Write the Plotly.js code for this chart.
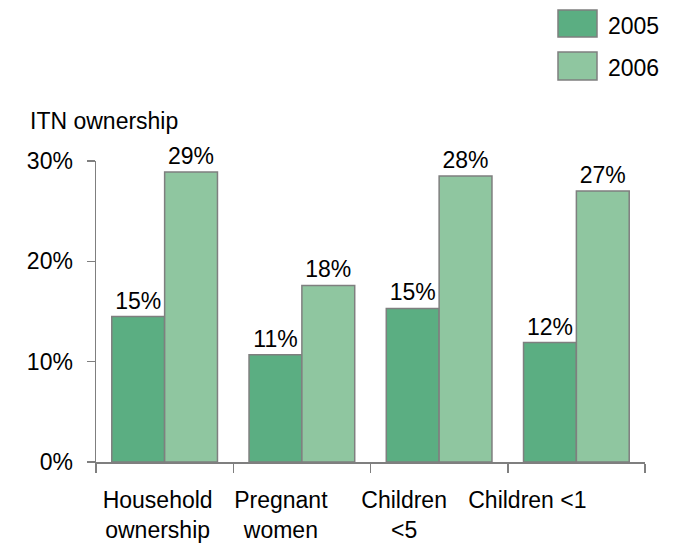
<!DOCTYPE html>
<html>
<head>
<meta charset="utf-8">
<script src="https://cdn.plot.ly/plotly-3.0.1.min.js"></script>
<style>
  html, body { margin: 0; padding: 0; background: #ffffff; }
  #chart { width: 684px; height: 546px; }
</style>
</head>
<body>
<div id="chart"></div>
<script>
// ---- data ----
const categories = ["Household ownership", "Pregnant women", "Children <5", "Children <1"];
const categoryLabels = ["Household<br>ownership", "Pregnant<br>women", "Children<br>&lt;5", "Children &lt;1"];
const seriesNames = ["2005", "2006"];
const values2005 = [14.5, 10.7, 15.3, 11.9];
const values2006 = [28.9, 17.6, 28.5, 27.0];
const labels2005 = ["15%", "11%", "15%", "12%"];
const labels2006 = ["29%", "18%", "28%", "27%"];
const yTickVals = [0, 10, 20, 30];
const yTickText = ["0%", "10%", "20%", "30%"];
const axisTitle = "ITN ownership";

// ---- style ----
const colors = ["#5bae82", "#8fc6a0"];
const outline = "#7f7f7f";
const FONT = "Liberation Sans, Arial, sans-serif";
const FS = 23;

const W = 684, H = 546;
const M = { l: 96, r: 39, t: 161, b: 84 };
const pw = W - M.l - M.r, ph = H - M.t - M.b;
const px2x = (px) => (px - M.l) / pw;
const py2y = (py) => (H - M.b - py) / ph;

const seriesVals = [values2005, values2006];
const seriesLabels = [labels2005, labels2006];

const traces = seriesNames.map((name, i) => ({
  type: "bar",
  name: name,
  x: categories,
  y: seriesVals[i],
  text: seriesLabels[i],
  textposition: "outside",
  textfont: { family: FONT, size: FS, color: "#000" },
  cliponaxis: false,
  marker: { color: colors[i], line: { color: outline, width: 1.5 } },
  hoverinfo: "skip",
  showlegend: false
}));

// invisible trace carrying the category label axis (labels sit on a slightly compressed spacing in the source)
traces.push({
  type: "scatter", mode: "none",
  x: categories.map((_, i) => i), y: categories.map(() => null),
  xaxis: "x2", yaxis: "y", hoverinfo: "skip", showlegend: false
});

// custom legend (large swatches)
const shapes = [];
const annotations = [];
const legendRows = [{ top: 10, bottom: 37 }, { top: 52, bottom: 80 }];
seriesNames.forEach((name, i) => {
  const r = legendRows[i];
  shapes.push({
    type: "rect", xref: "paper", yref: "paper",
    x0: px2x(558), x1: px2x(597), y0: py2y(r.bottom), y1: py2y(r.top),
    fillcolor: colors[i], line: { color: outline, width: 1.5 }
  });
  annotations.push({
    xref: "paper", yref: "paper", x: px2x(606), y: py2y((r.top + r.bottom) / 2 + 2),
    xanchor: "left", yanchor: "middle", showarrow: false,
    text: name, font: { family: FONT, size: FS, color: "#000" }
  });
});
annotations.push({
  xref: "paper", yref: "paper", x: px2x(28), y: py2y(121),
  xanchor: "left", yanchor: "middle", showarrow: false,
  text: axisTitle, font: { family: FONT, size: FS, color: "#000" }
});

const layout = {
  width: W, height: H,
  margin: M,
  paper_bgcolor: "#fff", plot_bgcolor: "rgba(0,0,0,0)",
  font: { family: FONT, size: FS, color: "#000" },
  barmode: "group",
  bargap: 0.23,
  bargroupgap: 0,
  showlegend: false,
  xaxis: {
    type: "category",
    showgrid: false, zeroline: false,
    showline: true, linecolor: outline, linewidth: 1.5,
    ticks: "outside", tickson: "boundaries", ticklen: 9, tickcolor: outline, tickwidth: 1.5,
    showticklabels: false
  },
  xaxis2: {
    domain: [px2x(94), px2x(589)],
    anchor: "y",
    range: [-0.5, categories.length - 0.5],
    tickmode: "array",
    tickvals: categories.map((_, i) => i),
    ticktext: categoryLabels,
    showgrid: false, zeroline: false, showline: false,
    ticks: "", ticklabelstandoff: 22,
    tickfont: { family: FONT, size: FS, color: "#000" },
    fixedrange: true
  },
  yaxis: {
    range: [0, 30],
    tickvals: yTickVals, ticktext: yTickText,
    showgrid: false, zeroline: false,
    showline: true, linecolor: outline, linewidth: 1.5,
    ticks: "outside", ticklen: 8, tickcolor: outline, tickwidth: 1.5,
    ticklabelstandoff: 9,
    tickfont: { family: FONT, size: FS, color: "#000" }
  },
  shapes: shapes,
  annotations: annotations
};

Plotly.newPlot("chart", traces, layout, { displayModeBar: false, staticPlot: true });
</script>
</body>
</html>
